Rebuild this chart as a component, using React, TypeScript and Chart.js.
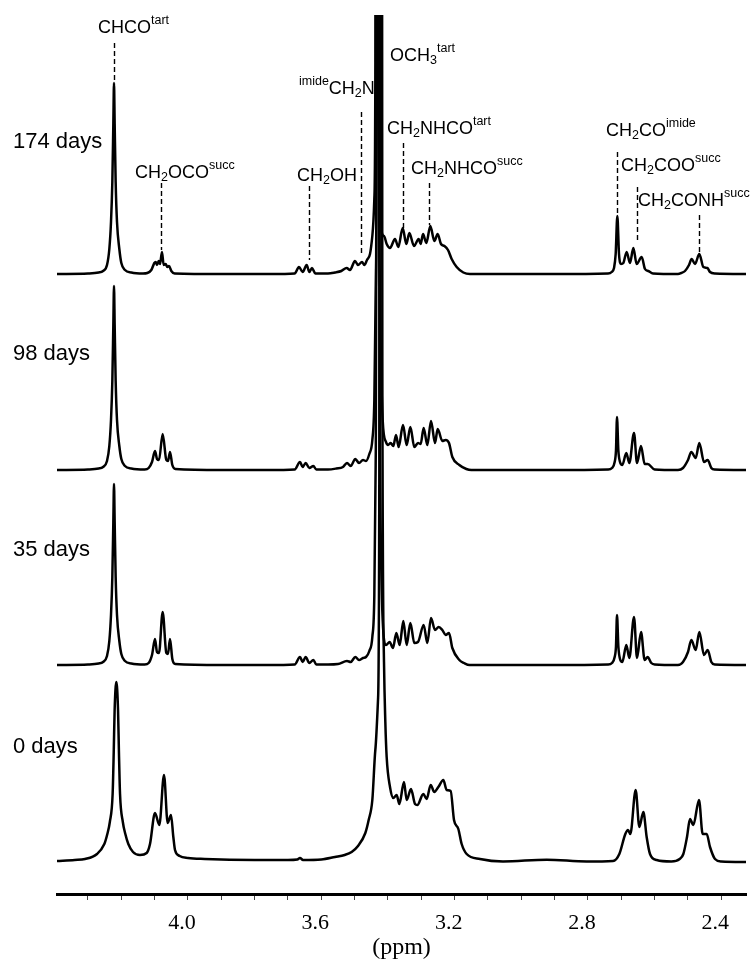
import React, { useEffect, useRef } from 'react';
import { Chart, registerables } from 'chart.js';

Chart.register(...registerables);

// ---------------- data (ppm, intensity above each trace's baseline) ----------------
const spectrumNames = ['174 days', '98 days', '35 days', '0 days'];

const days174: number[][] = [
  [4.393, 0], [4.300, 0.5], [4.268, 1.5], [4.255, 3], [4.243, 9], [4.236, 25], [4.231, 52], [4.227, 92], [4.224, 150], [4.222, 191], [4.220, 150], [4.217, 92], [4.213, 52], [4.206, 25], [4.200, 11], [4.189, 4], [4.170, 1.5], [4.135, 0.5],
  [4.122, 1], [4.110, 4], [4.101, 11], [4.097, 12], [4.093, 9], [4.088, 13], [4.084, 10], [4.078, 22], [4.073, 9], [4.067, 10], [4.062, 7], [4.057, 8], [4.050, 3], [4.040, 0.5],
  [3.900, 0], [3.750, 0], [3.680, 0.5], [3.667, 7], [3.656, 2], [3.644, 9], [3.636, 2], [3.628, 6], [3.618, 0.5],
  [3.580, 0.5], [3.559, 1.5], [3.540, 3], [3.524, 6], [3.514, 4], [3.499, 13], [3.490, 9], [3.478, 12], [3.471, 9], [3.463, 14], [3.454, 20], [3.447, 38], [3.441, 75], [3.438, 200], [3.437, 600], [3.4362, 2000], [3.4238, 2000], [3.423, 600], [3.422, 200], [3.419, 42],
  [3.412, 38], [3.404, 30], [3.394, 26], [3.379, 35], [3.369, 27], [3.356, 46], [3.345, 30], [3.336, 41], [3.322, 28], [3.308, 35], [3.302, 30], [3.295, 40], [3.285, 31], [3.273, 48], [3.261, 33], [3.251, 40], [3.241, 30], [3.231, 28], [3.220, 24], [3.209, 15], [3.194, 7], [3.174, 1.5], [3.154, 0],
  [2.900, 0], [2.740, 0.5], [2.729, 2], [2.722, 6], [2.717, 20], [2.712, 58], [2.707, 20], [2.701, 10], [2.694, 11], [2.684, 22], [2.674, 11], [2.664, 26], [2.654, 10], [2.639, 17], [2.629, 5], [2.619, 3], [2.605, 0.5],
  [2.530, 0], [2.520, 1], [2.509, 3], [2.497, 9], [2.489, 15], [2.479, 10], [2.466, 20], [2.454, 7], [2.442, 6], [2.434, 2], [2.419, 0.5], [2.326, 0],
];

const days98: number[][] = [
  [4.393, 0], [4.300, 0.5], [4.268, 1.5], [4.255, 3], [4.243, 9], [4.236, 24], [4.231, 50], [4.227, 89], [4.224, 145], [4.222, 184], [4.220, 145], [4.217, 89], [4.213, 50], [4.206, 24], [4.200, 11], [4.189, 4], [4.170, 1.5], [4.130, 0.5],
  [4.118, 2], [4.108, 8], [4.099, 19], [4.093, 11], [4.087, 10], [4.076, 36], [4.065, 10], [4.060, 9], [4.054, 18], [4.047, 5], [4.038, 1],
  [3.900, 0], [3.760, 0], [3.680, 0.5], [3.664, 8], [3.656, 3], [3.647, 7], [3.636, 2], [3.624, 4], [3.615, 0.5],
  [3.580, 0.5], [3.555, 1.5], [3.535, 3], [3.523, 7], [3.512, 4], [3.498, 11], [3.487, 7], [3.475, 10], [3.466, 9], [3.456, 16], [3.447, 30], [3.441, 70], [3.436, 200], [3.4325, 600], [3.4315, 2000], [3.4295, 2000], [3.4285, 600], [3.425, 200], [3.416, 50],
  [3.406, 28], [3.400, 25], [3.392, 27], [3.384, 24], [3.376, 35], [3.368, 23], [3.355, 45], [3.344, 25], [3.333, 43], [3.321, 23], [3.310, 27], [3.302, 26], [3.293, 42], [3.282, 25], [3.271, 49], [3.259, 27], [3.251, 41], [3.237, 29], [3.227, 30], [3.217, 27], [3.207, 13], [3.186, 5], [3.165, 1], [3.150, 0],
  [2.900, 0], [2.740, 0.5], [2.728, 2], [2.720, 8], [2.716, 20], [2.713, 53], [2.709, 20], [2.704, 8], [2.697, 5], [2.685, 17], [2.676, 7], [2.662, 37], [2.653, 7], [2.641, 24], [2.630, 6], [2.621, 6], [2.600, 0.5],
  [2.530, 0], [2.515, 2], [2.500, 10], [2.490, 18], [2.477, 12], [2.466, 27], [2.452, 8], [2.441, 10], [2.430, 2], [2.420, 0.5], [2.326, 0],
];

const days35: number[][] = [
  [4.393, 0], [4.300, 0.5], [4.268, 1.5], [4.255, 3], [4.243, 9], [4.236, 24], [4.231, 50], [4.227, 88], [4.224, 143], [4.222, 181], [4.220, 143], [4.217, 88], [4.213, 50], [4.206, 24], [4.200, 11], [4.189, 4], [4.170, 1.5], [4.130, 0.5],
  [4.118, 2], [4.108, 10], [4.099, 26], [4.093, 13], [4.087, 12], [4.076, 53], [4.065, 12], [4.060, 11], [4.054, 26], [4.047, 6], [4.038, 1],
  [3.900, 0], [3.760, 0], [3.680, 0.5], [3.664, 8], [3.656, 3], [3.647, 8], [3.636, 2], [3.624, 5], [3.615, 0.5],
  [3.580, 0.5], [3.550, 1], [3.523, 4], [3.512, 3], [3.498, 8], [3.487, 5], [3.475, 7], [3.466, 8], [3.456, 14], [3.447, 28], [3.441, 70], [3.437, 200], [3.434, 600], [3.433, 2000], [3.428, 2000], [3.427, 600], [3.424, 200], [3.416, 45],
  [3.406, 20], [3.395, 23], [3.385, 17], [3.375, 32], [3.365, 20], [3.354, 44], [3.344, 20], [3.333, 42], [3.321, 22], [3.310, 23], [3.293, 40], [3.282, 22], [3.271, 47], [3.259, 35], [3.248, 38], [3.237, 35], [3.227, 30], [3.217, 32], [3.207, 17], [3.186, 5], [3.172, 2], [3.155, 0],
  [2.900, 0], [2.740, 0.5], [2.728, 2], [2.720, 8], [2.716, 19], [2.713, 50], [2.709, 19], [2.704, 6], [2.697, 3], [2.685, 20], [2.676, 7], [2.662, 48], [2.653, 7], [2.641, 33], [2.630, 5], [2.621, 8], [2.610, 2], [2.600, 0.5],
  [2.530, 0], [2.515, 3], [2.500, 13], [2.490, 25], [2.477, 15], [2.466, 33], [2.452, 10], [2.441, 15], [2.430, 3], [2.420, 0.5], [2.326, 0],
];

const days0: number[][] = [
  [4.393, 1], [4.340, 2], [4.309, 3], [4.273, 8], [4.251, 18], [4.242, 28], [4.2345, 40], [4.2261, 68], [4.2228, 110], [4.2201, 152], [4.215, 180], [4.2099, 152], [4.2072, 110], [4.2039, 68], [4.1955, 40], [4.188, 28], [4.179, 18], [4.165, 10], [4.144, 7],
  [4.124, 9], [4.114, 18], [4.099, 49], [4.086, 37], [4.072, 87], [4.061, 39], [4.051, 47], [4.044, 25], [4.039, 12], [4.025, 6], [4.000, 4], [3.950, 3],
  [3.800, 2], [3.700, 2], [3.672, 2.5], [3.664, 4], [3.655, 2], [3.600, 2.5], [3.559, 5], [3.530, 7], [3.509, 10], [3.490, 16], [3.468, 29], [3.458, 42], [3.447, 62], [3.438, 112], [3.430, 162], [3.426, 400], [3.424, 2000], [3.420, 2000], [3.417, 500], [3.412, 200], [3.408, 140], [3.404, 105], [3.394, 75],
  [3.384, 64], [3.374, 67], [3.366, 58], [3.352, 80], [3.344, 62], [3.331, 73], [3.319, 58], [3.312, 57], [3.294, 68], [3.284, 63], [3.272, 77], [3.261, 70], [3.249, 75], [3.234, 82], [3.224, 72], [3.212, 71], [3.202, 42], [3.189, 33], [3.179, 18], [3.164, 8], [3.124, 3], [3.055, 0.5],
  [2.924, 2.3], [2.804, 0.5], [2.725, 1], [2.706, 8], [2.688, 28], [2.680, 32], [2.673, 28], [2.657, 72], [2.646, 35], [2.634, 50], [2.624, 25], [2.614, 8], [2.594, 2],
  [2.550, 0.5], [2.525, 3], [2.514, 8], [2.503, 25], [2.494, 43], [2.484, 37], [2.467, 62], [2.456, 28], [2.444, 28], [2.434, 15], [2.419, 3], [2.400, 0.5], [2.326, 0],
];

const spectra = [days174, days98, days35, days0];

// x-axis labelled ticks (ppm)
const tickLabels = ['4.0', '3.6', '3.2', '2.8', '2.4'];

// peak assignments: text parts and chemical shift (ppm) marked by a dashed line
type Part = [string, 'n' | 'sub' | 'sup'];
const assignText: Part[][] = [
  [['CHCO', 'n'], ['tart', 'sup']],
  [['CH', 'n'], ['2', 'sub'], ['OCO', 'n'], ['succ', 'sup']],
  [['CH', 'n'], ['2', 'sub'], ['OH', 'n']],
  [['imide', 'sup'], ['CH', 'n'], ['2', 'sub'], ['N', 'n']],
  [['OCH', 'n'], ['3', 'sub'], ['tart', 'sup']],
  [['CH', 'n'], ['2', 'sub'], ['NHCO', 'n'], ['tart', 'sup']],
  [['CH', 'n'], ['2', 'sub'], ['NHCO', 'n'], ['succ', 'sup']],
  [['CH', 'n'], ['2', 'sub'], ['CO', 'n'], ['imide', 'sup']],
  [['CH', 'n'], ['2', 'sub'], ['COO', 'n'], ['succ', 'sup']],
  [['CH', 'n'], ['2', 'sub'], ['CONH', 'n'], ['succ', 'sup']],
];
const assignPpm: (number | null)[] = [4.222, 4.081, 3.637, 3.481, null, 3.355, 3.277, 2.713, 2.653, 2.467];

// ---------------- layout (kept apart from the data) ----------------
const traceOffset = [620, 424, 229, 32];
const dayLabelPos = { ppm: 4.525, y: [746, 534, 338, 141] };
// text anchor (ppm of left edge, baseline y) and dashed line span (y from, y to)
const assignTextPos = [
  [4.270, 860.6], [4.159, 715.6], [3.673, 712.6], [3.667, 799.6], [3.394, 832.6],
  [3.403, 759.6], [3.331, 719.6], [2.746, 757.6], [2.701, 722.6], [2.650, 687.6],
];
const assignLineSpan = [
  [851, 812], [711, 644], [708, 634], [782, 641], null,
  [751, 666], [711, 669], [742, 679], [707, 654], [679, 639],
];

const SANS = '"Liberation Sans", Arial, Helvetica, sans-serif';
const SERIF = '"Liberation Serif", "Times New Roman", Times, serif';

function drawRich(ctx: CanvasRenderingContext2D, x0: number, yBase: number, parts: Part[]) {
  let x = x0;
  for (const [t, kind] of parts) {
    let dy = 0;
    if (kind === 'n') {
      ctx.font = `18px ${SANS}`;
    } else if (kind === 'sub') {
      ctx.font = `12.5px ${SANS}`;
      dy = 3;
    } else {
      ctx.font = `12.5px ${SANS}`;
      dy = -9;
    }
    ctx.fillText(t, x, yBase + dy);
    x += ctx.measureText(t).width;
  }
}

const annotationPlugin = {
  id: 'nmrAnnotations',
  afterDatasetsDraw(chart: any) {
    const { ctx, scales } = chart;
    const xs = scales.x;
    const ys = scales.y;
    ctx.save();
    ctx.strokeStyle = '#000';
    ctx.lineWidth = 1.4;
    ctx.setLineDash([5, 3]);
    assignPpm.forEach((ppm, i) => {
      const span = assignLineSpan[i];
      if (ppm == null || !span) return;
      const px = Math.round(xs.getPixelForValue(ppm)) + 0.5;
      ctx.beginPath();
      ctx.moveTo(px, ys.getPixelForValue(span[0]));
      ctx.lineTo(px, ys.getPixelForValue(span[1]));
      ctx.stroke();
    });
    ctx.setLineDash([]);
    ctx.fillStyle = '#000';
    ctx.textAlign = 'left';
    ctx.textBaseline = 'alphabetic';
    assignText.forEach((parts, i) => {
      const [tp, ty] = assignTextPos[i];
      drawRich(ctx, xs.getPixelForValue(tp), ys.getPixelForValue(ty), parts);
    });
    ctx.font = `22px ${SANS}`;
    spectrumNames.forEach((name, i) => {
      ctx.fillText(name, xs.getPixelForValue(dayLabelPos.ppm), ys.getPixelForValue(dayLabelPos.y[i]));
    });
    ctx.restore();
  },
};

export default function App() {
  const ref = useRef<HTMLCanvasElement>(null);
  useEffect(() => {
    if (!ref.current) return;
    const datasets = spectra.map((s, i) => ({
      label: spectrumNames[i],
      data: s.map(([ppm, h]) => ({ x: ppm, y: h + traceOffset[i] })),
      borderColor: '#000',
      backgroundColor: '#000',
      borderWidth: 2.5,
      pointRadius: 0,
      fill: false,
      cubicInterpolationMode: 'monotone' as const,
    }));
    const chart = new Chart(ref.current, {
      type: 'line',
      data: { datasets },
      plugins: [annotationPlugin],
      options: {
        animation: false,
        responsive: false,
        devicePixelRatio: 1,
        events: [],
        layout: { padding: { left: 57, right: 5, top: 15, bottom: 0 } },
        plugins: { legend: { display: false }, tooltip: { enabled: false } },
        scales: {
          x: {
            type: 'linear',
            reverse: true,
            min: 2.326,
            max: 4.393,
            grid: { display: true, drawOnChartArea: false, drawTicks: true, tickLength: 6, tickWidth: 1, tickColor: '#444' },
            border: { display: true, width: 3, color: '#000' },
            ticks: {
              stepSize: 0.1,
              includeBounds: false,
              autoSkip: false,
              maxRotation: 0,
              padding: 12,
              labelOffset: -6,
              color: '#000',
              font: { family: SERIF, size: 22, lineHeight: 1 },
              callback: (v: any) => {
                const s = Number(v).toFixed(1);
                return tickLabels.includes(s) ? s : '';
              },
            },
            title: {
              display: true,
              text: '(ppm)',
              color: '#000',
              font: { family: SERIF, size: 24, lineHeight: 1 },
              padding: { top: -10, bottom: 0 },
            },
          },
          y: { type: 'linear', display: false, min: 0, max: 879 },
        },
      },
    });
    return () => chart.destroy();
  }, []);
  return (
    <div style={{ position: 'absolute', left: 0, top: 0, width: 751, height: 960, background: '#fff' }}>
      <canvas ref={ref} width={751} height={960} style={{ display: 'block', width: 751, height: 960 }} />
    </div>
  );
}
